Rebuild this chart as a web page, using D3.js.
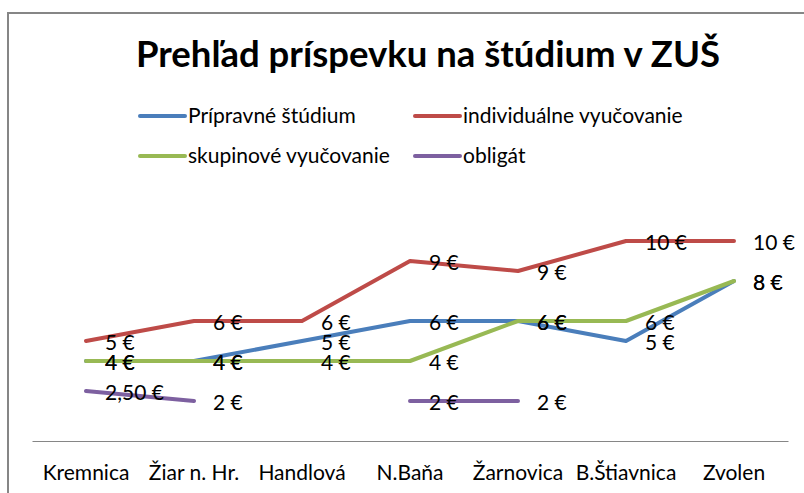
<!DOCTYPE html>
<html>
<head>
<meta charset="utf-8">
<script src="https://cdn.jsdelivr.net/npm/d3@7"></script>
<style>
  body { margin: 0; background: #fff; }
  text { font-family: Lato, 'Open Sans', sans-serif; fill: #000; }
</style>
</head>
<body>
<svg id="chart" width="804" height="493"></svg>
<script>
const title = 'Prehľad príspevku na štúdium v ZUŠ'
const categories = ['Kremnica', 'Žiar n. Hr.', 'Handlová', 'N.Baňa', 'Žarnovica', 'B.Štiavnica', 'Zvolen']

const seriesNames = ['Prípravné štúdium', 'individuálne vyučovanie', 'skupinové vyučovanie', 'obligát']
const pripravne = [4, 4, 5, 6, 6, 5, 8]
const individualne = [5, 6, 6, 9, 8.5, 10, 10]
const skupinove = [4, 4, 4, 4, 6, 6, 8]
const obligat = [2.5, 2, null, 2, 2, null, null]

const pripravneLabels = ['4 €', '4 €', '5 €', '6 €', '6 €', '5 €', '8 €']
const individualneLabels = ['5 €', '6 €', '6 €', '9 €', '9 €', '10 €', '10 €']
const skupinoveLabels = ['4 €', '4 €', '4 €', '4 €', '6 €', '6 €', '8 €']
const obligatLabels = ['2,50 €', '2 €', null, '2 €', '2 €', null, null]

const colors = ['#4a7ebb', '#be4b48', '#98b954', '#7d60a0']

const series = [
  { name: seriesNames[0], values: pripravne, labels: pripravneLabels, color: colors[0] },
  { name: seriesNames[1], values: individualne, labels: individualneLabels, color: colors[1] },
  { name: seriesNames[2], values: skupinove, labels: skupinoveLabels, color: colors[2] },
  { name: seriesNames[3], values: obligat, labels: obligatLabels, color: colors[3] }
]

const svg = d3.select('#chart')
const fontSize = 21

// chart frame (right and bottom edges fall outside the picture)
svg.append('rect')
  .attr('x', 8).attr('y', 13)
  .attr('width', 820).attr('height', 520)
  .attr('fill', '#fff')
  .attr('stroke', '#868686')
  .attr('stroke-width', 2)

svg.append('text')
  .attr('x', 428).attr('y', 67)
  .attr('text-anchor', 'middle')
  .style('font-size', '36.5px')
  .style('font-weight', 'bold')
  .text(title)

// legend
const legendPos = [[140, 116], [415, 116], [140, 156], [415, 156]]
const legend = svg.append('g')
  .selectAll('g')
  .data(series)
  .join('g')
  .attr('transform', (d, i) => `translate(${legendPos[i][0]},${legendPos[i][1]})`)
legend.append('line')
  .attr('x1', 0).attr('x2', 45)
  .attr('stroke', d => d.color)
  .attr('stroke-width', 4)
  .attr('stroke-linecap', 'round')
legend.append('text')
  .attr('x', 48).attr('y', 7)
  .style('font-size', fontSize + 'px')
  .text(d => d.name)

// scales
const x = d3.scaleBand().domain(categories).range([32, 788])
const y = d3.scaleLinear().domain([0, 12]).range([441, 201])
const cx = c => x(c) + x.bandwidth() / 2

const xAxis = d3.axisBottom(x).tickSizeInner(0).tickSizeOuter(0).tickPadding(24)
const gx = svg.append('g')
  .attr('transform', 'translate(0,441)')
  .call(xAxis)
gx.select('.domain').attr('stroke', '#868686')
gx.selectAll('text')
  .style('font-size', fontSize + 'px')
  .style('font-family', 'Lato, sans-serif')
  .attr('fill', '#000')

// lines
const line = d3.line()
  .defined(d => d.v !== null)
  .x(d => cx(d.c))
  .y(d => y(d.v))

const pts = s => categories.map((c, i) => ({ c: c, v: s.values[i], label: s.labels[i] }))

svg.append('g')
  .selectAll('path')
  .data(series)
  .join('path')
  .attr('d', s => line(pts(s)))
  .attr('fill', 'none')
  .attr('stroke', s => s.color)
  .attr('stroke-width', 4)
  .attr('stroke-linejoin', 'round')
  .attr('stroke-linecap', 'round')

// data labels, to the right of each point
const labelGroup = svg.append('g')
series.forEach(s => {
  labelGroup.selectAll(null)
    .data(pts(s).filter(d => d.v !== null))
    .join('text')
    .attr('x', d => cx(d.c) + 19)
    .attr('y', d => y(d.v) + 8.5)
    .style('font-size', fontSize + 'px')
    .text(d => d.label)
})
</script>
</body>
</html>
